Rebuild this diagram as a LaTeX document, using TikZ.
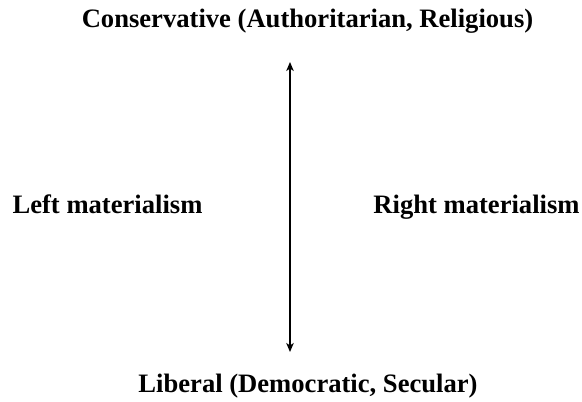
\documentclass[tikz,border=0pt]{standalone}
\usepackage{fontspec}
\setmainfont{Liberation Serif}
\usetikzlibrary{arrows.meta}
\begin{document}
\begin{tikzpicture}[x=1pt,y=1pt,
  lbl/.style={font=\bfseries\fontsize{26.6}{30}\selectfont, inner sep=0pt, anchor=base},
  axis/.style={line width=1.3pt, {Stealth[length=9pt,width=7.5pt,inset=2.5pt]}-{Stealth[length=9pt,width=7.5pt,inset=2.5pt]}}]
\useasboundingbox (0,0) rectangle (582,402);
\node[lbl] (top) at (307.5,374) {Conservative (Authoritarian, Religious)};
\node[lbl] (bot) at (308,9) {Liberal (Democratic, Secular)};
\node[lbl] (left) at (107.5,188) {Left materialism};
\node[lbl] (right) at (476.5,188) {Right materialism};
\coordinate (a) at (290,340);
\coordinate (b) at (290,50);
\draw[axis] (b) -- (a);
\end{tikzpicture}
\end{document}
